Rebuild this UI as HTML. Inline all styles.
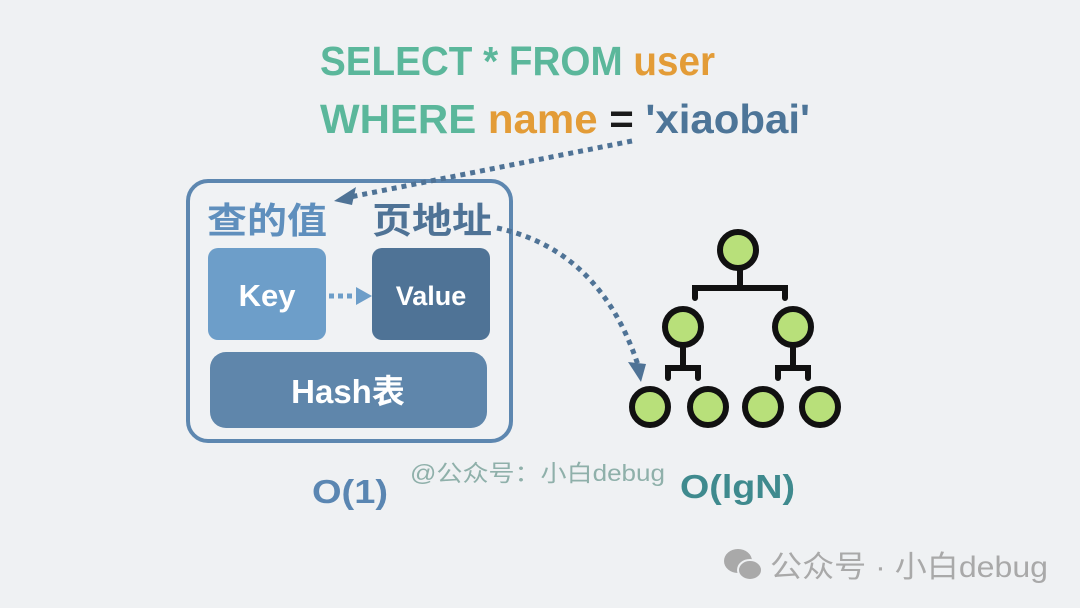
<!DOCTYPE html>
<html><head><meta charset="utf-8"><style>
html,body{margin:0;padding:0;background:#eff1f3;}
svg{display:block}
text{font-family:"Liberation Sans","Noto Sans CJK SC",sans-serif;font-weight:bold}
</style></head><body>
<svg width="1080" height="608" viewBox="0 0 1080 608" xmlns="http://www.w3.org/2000/svg">
<rect width="1080" height="608" fill="#eff1f3"/>
<!-- SQL -->
<text x="320" y="75" font-size="41" textLength="395" lengthAdjust="spacingAndGlyphs"><tspan fill="#5bb79b">SELECT * FROM </tspan><tspan fill="#e39c37">user</tspan></text>
<text x="320" y="133" font-size="41" textLength="490" lengthAdjust="spacingAndGlyphs"><tspan fill="#5bb79b">WHERE </tspan><tspan fill="#e39c37">name </tspan><tspan fill="#1a1a1a">= </tspan><tspan fill="#4d7598">'xiaobai'</tspan></text>
<!-- outer box -->
<rect x="188" y="181" width="323" height="260" rx="20" fill="#f0f2f4" stroke="#5d87b0" stroke-width="4"/>
<text x="207" y="233" font-size="36" fill="#5f8fbd" textLength="120" lengthAdjust="spacingAndGlyphs">查的值</text>
<text x="372" y="233" font-size="36" fill="#4f7396" textLength="120" lengthAdjust="spacingAndGlyphs">页地址</text>
<rect x="208" y="248" width="118" height="92" rx="10" fill="#6d9ec9"/>
<text x="267" y="306" font-size="31" fill="#fff" text-anchor="middle">Key</text>
<rect x="372" y="248" width="118" height="92" rx="10" fill="#4f7396"/>
<text x="431" y="305" font-size="27" fill="#fff" text-anchor="middle">Value</text>
<line x1="329" y1="296" x2="357" y2="296" stroke="#6d9ec9" stroke-width="5" stroke-dasharray="5,4"/>
<polygon points="356,287 372,296 356,305" fill="#6d9ec9"/>
<rect x="210" y="352" width="277" height="76" rx="16" fill="#5f86ab"/>
<text x="348" y="403" font-size="33" fill="#fff" text-anchor="middle">Hash表</text>
<!-- arrows -->
<path d="M632,141 L350,197" stroke="#4f7396" stroke-width="5" fill="none" stroke-dasharray="5,5"/>
<polygon points="334,201 356,187 352,205" fill="#4f7396"/>
<path d="M497,228 Q600,250 638,365" stroke="#4f7396" stroke-width="5" fill="none" stroke-dasharray="5,5"/>
<polygon points="628,362 646,364 641,382" fill="#4f7396"/>
<!-- tree -->
<g stroke="#111" stroke-width="6" fill="#b8e07a" stroke-linecap="round">
<path d="M740,270 V288 M695,298 V288 H785 V298" fill="none"/>
<path d="M683,348 V368 M668,378 V368 H698 V378" fill="none"/>
<path d="M793,348 V368 M778,378 V368 H808 V378" fill="none"/>
<circle cx="738" cy="250" r="18"/>
<circle cx="683" cy="327" r="18"/>
<circle cx="793" cy="327" r="18"/>
<circle cx="650" cy="407" r="18"/>
<circle cx="708" cy="407" r="18"/>
<circle cx="763" cy="407" r="18"/>
<circle cx="820" cy="407" r="18"/>
</g>
<!-- labels -->
<text x="312" y="503" font-size="33" fill="#5a86b2" textLength="76" lengthAdjust="spacingAndGlyphs">O(1)</text>
<text x="410" y="481" font-size="23" fill="#8fb0aa" style="font-weight:normal" textLength="255" lengthAdjust="spacingAndGlyphs">@公众号：小白debug</text>
<text x="680" y="498" font-size="33" fill="#3f8a8e" textLength="115" lengthAdjust="spacingAndGlyphs">O(lgN)</text>
<!-- wechat icon -->
<g fill="#a9a9a9">
<ellipse cx="738" cy="561" rx="14" ry="12"/>
<ellipse cx="750" cy="570" rx="12" ry="10" stroke="#eff1f3" stroke-width="2"/>
</g>
<text x="770" y="577" font-size="30" fill="#a9a9a9" style="font-weight:normal" textLength="278" lengthAdjust="spacingAndGlyphs">公众号 · 小白debug</text>
</svg>
</body></html>
